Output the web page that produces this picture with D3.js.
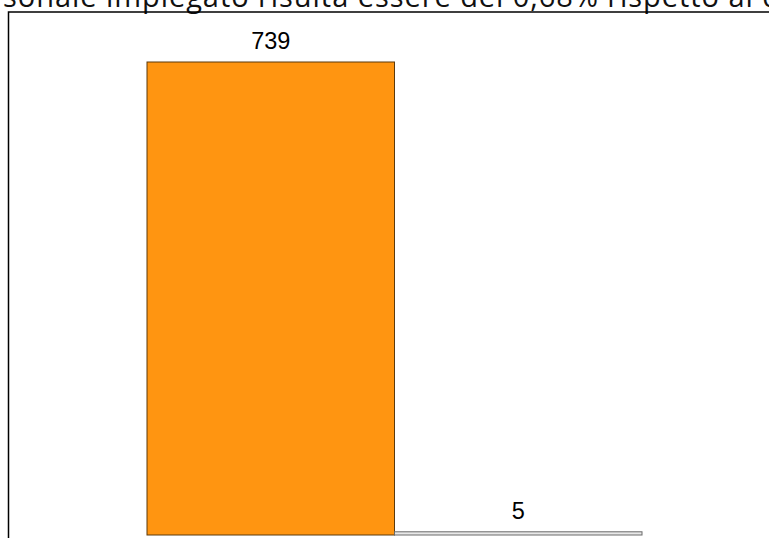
<!DOCTYPE html>
<html>
<head>
<meta charset="utf-8">
<script src="https://cdn.jsdelivr.net/npm/d3@7"></script>
<style>
html,body{margin:0;padding:0;background:#fff;overflow:hidden;}
svg{display:block;}
</style>
</head>
<body>
<svg id="chart" width="769" height="538"></svg>
<script>
const categories = ["Categoria 1", "Categoria 2"];
const values = [739, 5];
const valueLabels = ["739", "5"];
const headerText = "sonale impiegato risulta essere del 0,68% rispetto al d";

const svg = d3.select("#chart");
const W = 769, H = 538;

// partial paragraph text above the chart (cut at the top, as in the reference)
svg.append("text")
  .attr("x", 3).attr("y", 6.5)
  .attr("font-family", "'Open Sans', 'Noto Sans', sans-serif")
  .attr("font-size", 29)
  .attr("textLength", 777)
  .attr("lengthAdjust", "spacing")
  .attr("fill", "#111")
  .text(headerText);

// frame
svg.append("path")
  .attr("d", `M8.5,${H + 5} V12 H${W + 5}`)
  .attr("fill", "none")
  .attr("stroke", "#000")
  .attr("stroke-width", 1.5);

const x = d3.scaleBand().domain(categories).range([147, 642]).paddingInner(0).paddingOuter(0);
const y = d3.scaleLinear().domain([0, d3.max(values)]).range([535, 62]);

const fills = ["#ff9511", "#e8e8e8"];
const strokes = ["#5c3a0c", "#6a6a6a"];

const g = svg.append("g");
g.selectAll("rect.bar").data(values).join("rect")
  .attr("class", "bar")
  .attr("x", (d, i) => x(categories[i]))
  .attr("y", d => y(d))
  .attr("width", x.bandwidth())
  .attr("height", d => y(0) - y(d))
  .attr("fill", (d, i) => fills[i])
  .attr("stroke", (d, i) => strokes[i])
  .attr("stroke-width", 1);

g.selectAll("text.lbl").data(values).join("text")
  .attr("class", "lbl")
  .attr("x", (d, i) => x(categories[i]) + x.bandwidth() / 2)
  .attr("y", d => y(d) - 13)
  .attr("text-anchor", "middle")
  .attr("font-family", "'Liberation Sans', Arial, sans-serif")
  .attr("font-size", 23.5)
  .attr("fill", "#000")
  .text((d, i) => valueLabels[i]);
</script>
</body>
</html>
